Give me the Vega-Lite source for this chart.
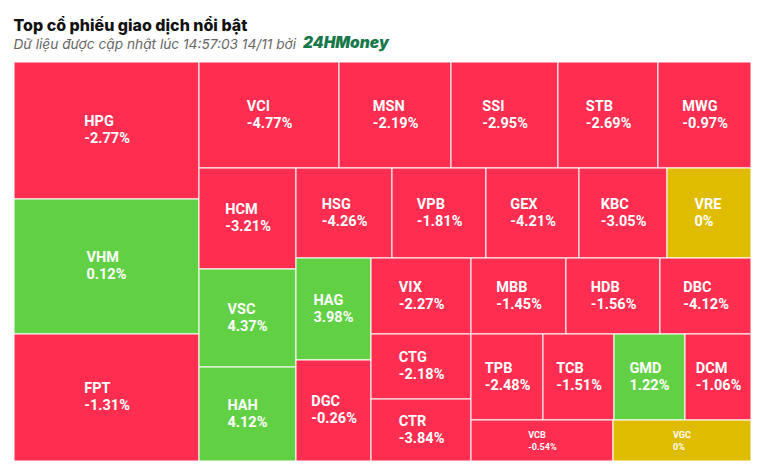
{
  "$schema": "https://vega.github.io/schema/vega-lite/v6.json",
  "width": 737,
  "height": 399,
  "autosize": {"type": "none"},
  "padding": {"left": 14, "top": 62, "right": 19, "bottom": 15},
  "background": "white",
  "config": {"view": {"stroke": null}},
  "title": {
    "text": "Top cổ phiếu giao dịch nổi bật",
    "subtitle": "Dữ liệu được cập nhật lúc 14:57:03 14/11 bởi",
    "anchor": "start",
    "font": "Inter",
    "fontSize": 16,
    "fontWeight": 800,
    "color": "#111111",
    "subtitleFont": "Inter",
    "subtitleFontSize": 13.7,
    "subtitleFontStyle": "italic",
    "subtitleColor": "#666666",
    "subtitlePadding": 4,
    "offset": -16
  },
  "data": {
    "values": [
      {"name": "HPG", "change": -2.77, "x0": 0, "x1": 185, "y0": 0, "y1": 137},
      {"name": "VHM", "change": 0.12, "x0": 0, "x1": 185, "y0": 137, "y1": 272},
      {"name": "FPT", "change": -1.31, "x0": 0, "x1": 185, "y0": 272, "y1": 399},
      {"name": "VCI", "change": -4.77, "x0": 185, "x1": 325, "y0": 0, "y1": 106},
      {"name": "MSN", "change": -2.19, "x0": 325, "x1": 437, "y0": 0, "y1": 106},
      {"name": "SSI", "change": -2.95, "x0": 437, "x1": 544, "y0": 0, "y1": 106},
      {"name": "STB", "change": -2.69, "x0": 544, "x1": 644, "y0": 0, "y1": 106},
      {"name": "MWG", "change": -0.97, "x0": 644, "x1": 737, "y0": 0, "y1": 106},
      {"name": "HCM", "change": -3.21, "x0": 185, "x1": 282, "y0": 106, "y1": 207},
      {"name": "HSG", "change": -4.26, "x0": 282, "x1": 378, "y0": 106, "y1": 196},
      {"name": "VPB", "change": -1.81, "x0": 378, "x1": 472, "y0": 106, "y1": 196},
      {"name": "GEX", "change": -4.21, "x0": 472, "x1": 565, "y0": 106, "y1": 196},
      {"name": "KBC", "change": -3.05, "x0": 565, "x1": 653, "y0": 106, "y1": 196},
      {"name": "VRE", "change": 0, "x0": 653, "x1": 737, "y0": 106, "y1": 196},
      {"name": "VSC", "change": 4.37, "x0": 185, "x1": 282, "y0": 207, "y1": 305},
      {"name": "HAH", "change": 4.12, "x0": 185, "x1": 282, "y0": 305, "y1": 399},
      {"name": "HAG", "change": 3.98, "x0": 282, "x1": 357, "y0": 196, "y1": 298},
      {"name": "DGC", "change": -0.26, "x0": 282, "x1": 357, "y0": 298, "y1": 399},
      {"name": "VIX", "change": -2.27, "x0": 357, "x1": 457, "y0": 196, "y1": 272},
      {"name": "MBB", "change": -1.45, "x0": 457, "x1": 552, "y0": 196, "y1": 272},
      {"name": "HDB", "change": -1.56, "x0": 552, "x1": 646, "y0": 196, "y1": 272},
      {"name": "DBC", "change": -4.12, "x0": 646, "x1": 737, "y0": 196, "y1": 272},
      {"name": "CTG", "change": -2.18, "x0": 357, "x1": 457, "y0": 272, "y1": 337},
      {"name": "CTR", "change": -3.84, "x0": 357, "x1": 457, "y0": 337, "y1": 399},
      {"name": "TPB", "change": -2.48, "x0": 457, "x1": 529, "y0": 272, "y1": 358},
      {"name": "TCB", "change": -1.51, "x0": 529, "x1": 600, "y0": 272, "y1": 358},
      {"name": "GMD", "change": 1.22, "x0": 600, "x1": 671, "y0": 272, "y1": 358},
      {"name": "DCM", "change": -1.06, "x0": 671, "x1": 737, "y0": 272, "y1": 358},
      {"name": "VCB", "change": -0.54, "x0": 457, "x1": 599, "y0": 358, "y1": 399},
      {"name": "VGC", "change": 0, "x0": 599, "x1": 737, "y0": 358, "y1": 399}
    ]
  },
  "transform": [
    {"calculate": "datum.change > 0 ? 'up' : (datum.change < 0 ? 'down' : 'flat')", "as": "dir"},
    {"calculate": "datum.change + '%'", "as": "pct"},
    {"calculate": "datum.y1 - datum.y0 < 50", "as": "small"},
    {"calculate": "(datum.x0 + datum.x1) / 2", "as": "xm"},
    {"calculate": "(datum.y0 + datum.y1) / 2", "as": "ym"},
    {"calculate": "datum.name + '\\n' + datum.pct", "as": "label"},
    {"calculate": "indexof(datum.pct, '-') >= 0 ? 1 : 0", "as": "hasMinus"},
    {"calculate": "indexof(datum.pct, '.') >= 0 ? 1 : 0", "as": "hasDot"},
    {"calculate": "(length(datum.pct) - 1 - datum.hasMinus - datum.hasDot) * 0.57 + 0.78 + datum.hasMinus * 0.3 + datum.hasDot * 0.27", "as": "pctEm"},
    {"calculate": "max(datum.pctEm, 2.0) * (datum.small ? 9 : 14.5)", "as": "labW"},
    {"calculate": "datum.xm - datum.labW / 2", "as": "xl"}
  ],
  "layer": [
    {
      "mark": {"type": "rect", "stroke": "white", "strokeWidth": 1},
      "encoding": {
        "x": {"field": "x0", "type": "quantitative", "scale": {"domain": [0, 737], "nice": false, "zero": false}, "axis": null},
        "x2": {"field": "x1"},
        "y": {"field": "y0", "type": "quantitative", "scale": {"domain": [0, 399], "nice": false, "zero": false, "reverse": true}, "axis": null},
        "y2": {"field": "y1"},
        "color": {"field": "dir", "type": "nominal", "scale": {"domain": ["down", "up", "flat"], "range": ["#FF2D4F", "#62D045", "#E0BC00"]}, "legend": null}
      }
    },
    {
      "transform": [{"filter": "!datum.small"}],
      "mark": {"type": "text", "align": "left", "baseline": "middle", "lineBreak": "\n", "lineHeight": 17, "dy": -8.5, "font": "Roboto", "fontWeight": "bold", "fontSize": 14.5, "fill": "white"},
      "encoding": {
        "x": {"field": "xl", "type": "quantitative"},
        "y": {"field": "ym", "type": "quantitative"},
        "text": {"field": "label"}
      }
    },
    {
      "transform": [{"filter": "datum.small"}],
      "mark": {"type": "text", "align": "left", "baseline": "middle", "lineBreak": "\n", "lineHeight": 12, "dy": -6, "font": "Roboto", "fontWeight": "bold", "fontSize": 9, "fill": "white"},
      "encoding": {
        "x": {"field": "xl", "type": "quantitative"},
        "y": {"field": "ym", "type": "quantitative"},
        "text": {"field": "label"}
      }
    },
    {
      "data": {"values": [{"brand": "24HMoney"}]},
      "mark": {"type": "text", "align": "left", "baseline": "alphabetic", "font": "Inter", "fontStyle": "italic", "fontWeight": 900, "fontSize": 15.5, "fill": "#17784A"},
      "encoding": {
        "x": {"datum": 289, "type": "quantitative"},
        "y": {"datum": -14, "type": "quantitative"},
        "text": {"field": "brand"}
      }
    }
  ]
}
